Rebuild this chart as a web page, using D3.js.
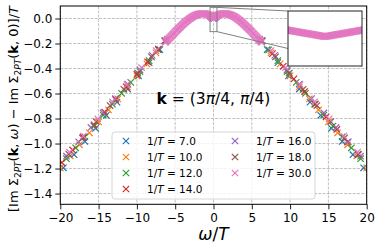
<!DOCTYPE html>
<html>
<head>
<meta charset="utf-8">
<script src="https://cdn.jsdelivr.net/npm/d3@7"></script>
<style>
  body { margin: 0; background: #fff; }
  text { font-family: "DejaVu Sans", sans-serif; }
</style>
</head>
<body>
<script>
// tick labels
var xTicks = [-20, -15, -10, -5, 0, 5, 10, 15, 20];
var yTicks = [0, -0.2, -0.4, -0.6, -0.8, -1.0, -1.2, -1.4];

// legend labels (1/T) and colours
var invT = ["7.0", "10.0", "12.0", "14.0", "16.0", "18.0", "30.0"];
var colors = ["#1f77b4", "#ff7f0e", "#2ca02c", "#d62728", "#9467bd", "#8c564b", "#e377c2"];

// [omega/T, value]
var pts7 = [[-19.6,-1.194],[-18.2,-1.089],[-16.8,-0.983],[-15.4,-0.878],[-14.0,-0.774],[-12.6,-0.669],[-11.2,-0.564],[-9.8,-0.458],[-8.4,-0.353],[-7.0,-0.249],
  [7.0,-0.249],[8.4,-0.353],[9.8,-0.458],[11.2,-0.564],[12.6,-0.669],[14.0,-0.774],[15.4,-0.878],[16.8,-0.983],[18.2,-1.089],[19.6,-1.194]];
var pts10 = [[-20.0,-1.194],[-18.7,-1.098],[-17.5,-1.010],[-16.2,-0.914],[-15.0,-0.827],[-13.7,-0.731],[-12.5,-0.643],[-11.2,-0.547],[-10.0,-0.459],[-8.7,-0.363],[-7.5,-0.275],[-6.2,-0.179],
  [6.2,-0.179],[7.5,-0.275],[8.7,-0.363],[10.0,-0.459],[11.2,-0.547],[12.5,-0.643],[13.7,-0.731],[15.0,-0.827],[16.2,-0.914],[17.5,-1.010],[18.7,-1.098],[20.0,-1.194]];
var pts12 = [[-19.2,-1.121],[-18.0,-1.034],[-16.8,-0.947],[-15.6,-0.860],[-14.4,-0.772],[-13.2,-0.685],[-12.0,-0.598],[-10.8,-0.511],[-9.6,-0.424],[-8.4,-0.337],[-7.2,-0.250],[-6.0,-0.164],
  [6.0,-0.164],[7.2,-0.250],[8.4,-0.337],[9.6,-0.424],[10.8,-0.511],[12.0,-0.598],[13.2,-0.685],[14.4,-0.772],[15.6,-0.860],[16.8,-0.947],[18.0,-1.034],[19.2,-1.121]];
var pts14 = [[-19.8,-1.152],[-18.4,-1.051],[-17.0,-0.951],[-15.6,-0.850],[-14.2,-0.749],[-12.8,-0.648],[-11.4,-0.547],[-10.0,-0.447],[-8.6,-0.346],[-7.2,-0.245],
  [6.3,-0.180],[7.7,-0.281],[9.1,-0.382],[10.5,-0.483],[11.9,-0.584],[13.3,-0.685],[14.7,-0.786],[16.1,-0.887],[17.5,-0.988],[18.9,-1.089]];
var pts16 = [[-19.2,-1.101],[-17.6,-0.986],[-16.0,-0.871],[-14.4,-0.755],[-12.8,-0.640],[-11.2,-0.525],[-9.6,-0.410],[-8.0,-0.295],[-6.4,-0.179],
  [6.4,-0.179],[8.0,-0.295],[9.6,-0.410],[11.2,-0.525],[12.8,-0.640],[14.4,-0.755],[16.0,-0.871],[17.6,-0.986],[19.2,-1.101]];
var pts18 = [[-18.9,-1.084],[-17.1,-0.955],[-15.3,-0.825],[-13.5,-0.696],[-11.7,-0.566],[-9.9,-0.436],[-8.1,-0.307],[-6.3,-0.177],
  [6.3,-0.177],[8.1,-0.307],[9.9,-0.436],[11.7,-0.566],[13.5,-0.696],[15.3,-0.825],[17.1,-0.955],[18.9,-1.084]];
// 1/T = 30: sparse tail points plus the dense central band
var pts30 = [[-18.8,-1.069],[-17.0,-0.940],[-15.1,-0.803],[-13.2,-0.666],[-11.3,-0.529],[-9.4,-0.392],[-7.5,-0.256],
  [7.5,-0.256],[9.4,-0.392],[11.3,-0.529],[13.2,-0.666],[15.1,-0.803],[17.0,-0.940],[18.8,-1.069]];
var pts30band = [
  [-6.3,-0.191],[-6.2,-0.185],[-6.1,-0.179],[-6.0,-0.172],[-5.9,-0.166],[-5.8,-0.159],[-5.7,-0.153],[-5.6,-0.146],[-5.5,-0.140],[-5.4,-0.133],
  [-5.3,-0.127],[-5.2,-0.120],[-5.1,-0.114],[-5.0,-0.107],[-4.9,-0.101],[-4.8,-0.094],[-4.7,-0.088],[-4.6,-0.082],[-4.5,-0.076],[-4.4,-0.070],
  [-4.3,-0.064],[-4.2,-0.058],[-4.1,-0.052],[-4.0,-0.046],[-3.9,-0.041],[-3.8,-0.035],[-3.7,-0.030],[-3.6,-0.024],[-3.5,-0.019],[-3.4,-0.014],
  [-3.3,-0.010],[-3.2,-0.005],[-3.1,-0.001],[-3.0,0.004],[-2.9,0.008],[-2.8,0.012],[-2.7,0.016],[-2.6,0.019],[-2.5,0.022],[-2.4,0.025],
  [-2.3,0.028],[-2.2,0.030],[-2.1,0.032],[-2.0,0.034],[-1.9,0.036],[-1.8,0.037],[-1.7,0.038],[-1.6,0.039],[-1.5,0.040],[-1.4,0.040],
  [-1.3,0.040],[-1.2,0.039],[-1.1,0.038],[-1.0,0.037],[-0.9,0.035],[-0.8,0.033],[-0.7,0.031],[-0.6,0.028],[-0.5,0.026],
  [-0.475,0.0249],[-0.4625,0.0243],[-0.45,0.0236],[-0.4375,0.0230],[-0.425,0.0223],[-0.4125,0.0217],[-0.4,0.0210],[-0.3875,0.0203],
  [-0.375,0.0197],[-0.3625,0.0190],[-0.35,0.0184],[-0.3375,0.0177],[-0.325,0.0171],[-0.3125,0.0164],[-0.3,0.0158],[-0.2875,0.0151],
  [-0.275,0.0144],[-0.2625,0.0138],[-0.25,0.0131],[-0.2375,0.0125],[-0.225,0.0118],[-0.2125,0.0112],[-0.2,0.0105],[-0.1875,0.0098],
  [-0.175,0.0092],[-0.1625,0.0085],[-0.15,0.0079],[-0.1375,0.0072],[-0.125,0.0066],[-0.1125,0.0059],[-0.1,0.0053],[-0.0875,0.0046],
  [-0.075,0.0039],[-0.0625,0.0033],[-0.05,0.0026],[-0.0375,0.0020],[-0.025,0.0013],[-0.0125,0.0007],[0,0],
  [0.0125,0.0007],[0.025,0.0013],[0.0375,0.0020],[0.05,0.0026],[0.0625,0.0033],[0.075,0.0039],[0.0875,0.0046],[0.1,0.0053],
  [0.1125,0.0059],[0.125,0.0066],[0.1375,0.0072],[0.15,0.0079],[0.1625,0.0085],[0.175,0.0092],[0.1875,0.0098],[0.2,0.0105],
  [0.2125,0.0112],[0.225,0.0118],[0.2375,0.0125],[0.25,0.0131],[0.2625,0.0138],[0.275,0.0144],[0.2875,0.0151],[0.3,0.0158],
  [0.3125,0.0164],[0.325,0.0171],[0.3375,0.0177],[0.35,0.0184],[0.3625,0.0190],[0.375,0.0197],[0.3875,0.0203],[0.4,0.0210],
  [0.4125,0.0217],[0.425,0.0223],[0.4375,0.0230],[0.45,0.0236],[0.4625,0.0243],[0.475,0.0249],
  [0.5,0.026],[0.6,0.028],[0.7,0.031],[0.8,0.033],[0.9,0.035],[1.0,0.037],[1.1,0.038],[1.2,0.039],[1.3,0.040],[1.4,0.040],
  [1.5,0.040],[1.6,0.039],[1.7,0.038],[1.8,0.037],[1.9,0.036],[2.0,0.034],[2.1,0.032],[2.2,0.030],[2.3,0.028],[2.4,0.025],
  [2.5,0.022],[2.6,0.019],[2.7,0.016],[2.8,0.012],[2.9,0.008],[3.0,0.004],[3.1,-0.001],[3.2,-0.005],[3.3,-0.010],[3.4,-0.014],
  [3.5,-0.019],[3.6,-0.024],[3.7,-0.030],[3.8,-0.035],[3.9,-0.041],[4.0,-0.046],[4.1,-0.052],[4.2,-0.058],[4.3,-0.064],[4.4,-0.070],
  [4.5,-0.076],[4.6,-0.082],[4.7,-0.088],[4.8,-0.094],[4.9,-0.101],[5.0,-0.107],[5.1,-0.114],[5.2,-0.120],[5.3,-0.127],[5.4,-0.133],
  [5.5,-0.140],[5.6,-0.146],[5.7,-0.153],[5.8,-0.159],[5.9,-0.166],[6.0,-0.172],[6.1,-0.179],[6.2,-0.185],[6.3,-0.191]];

var allSeries = [pts7, pts10, pts12, pts14, pts16, pts18, pts30.concat(pts30band)];

// inset window
var insetX = [-0.45, 0.45];
var insetY = [-0.105, 0.092];

var width = 381, height = 250;
var svg = d3.select("body").append("svg")
  .attr("width", width)
  .attr("height", height);

var x = d3.scaleLinear().domain([-20, 20]).range([60.3, 366.7]);
var y = d3.scaleLinear().domain([-1.486, 0.1]).range([204.3, 6]);

// clip for the main axes
svg.append("clipPath").attr("id", "mainclip")
  .append("rect")
  .attr("x", x.range()[0]).attr("y", y.range()[1])
  .attr("width", x.range()[1] - x.range()[0])
  .attr("height", y.range()[0] - y.range()[1]);

// grid
var grid = svg.append("g").attr("stroke", "#b0b0b0").attr("stroke-width", 0.8)
  .attr("stroke-dasharray", "3,1.3");
grid.selectAll(".gx").data(xTicks).enter().append("line")
  .attr("x1", d => x(d)).attr("x2", d => x(d))
  .attr("y1", y.range()[1]).attr("y2", y.range()[0]);
grid.selectAll(".gy").data(yTicks).enter().append("line")
  .attr("x1", x.range()[0]).attr("x2", x.range()[1])
  .attr("y1", d => y(d)).attr("y2", d => y(d));

function cross(s) {
  return "M" + (-s) + "," + (-s) + "L" + s + "," + s + "M" + (-s) + "," + s + "L" + s + "," + (-s);
}

// data markers
var plot = svg.append("g").attr("clip-path", "url(#mainclip)");
allSeries.forEach(function (pts, i) {
  plot.append("g").selectAll("path")
    .data(pts)
    .enter()
    .append("path")
    .attr("d", cross(3.2))
    .attr("transform", d => `translate(${x(d[0])},${y(d[1])})`)
    .attr("fill", "none")
    .attr("stroke", colors[i])
    .attr("stroke-width", 1.2);
});

// axes
var xAxis = svg.append("g")
  .attr("transform", `translate(0,${y.range()[0]})`)
  .call(d3.axisBottom(x).tickValues(xTicks).tickSize(5).tickPadding(4).tickSizeOuter(0));
var yAxis = svg.append("g")
  .attr("transform", `translate(${x.range()[0]},0)`)
  .call(d3.axisLeft(y).tickValues(yTicks).tickFormat(d3.format(".1f")).tickSize(5).tickPadding(3).tickSizeOuter(0));
[xAxis, yAxis].forEach(function (a) {
  a.select(".domain").remove();
  a.selectAll("text").attr("font-size", 12).attr("font-family", "DejaVu Sans").attr("fill", "#000");
  a.selectAll("line").attr("stroke", "#000").attr("stroke-width", 0.9);
});

// frame
svg.append("rect")
  .attr("x", x.range()[0]).attr("y", y.range()[1])
  .attr("width", x.range()[1] - x.range()[0])
  .attr("height", y.range()[0] - y.range()[1])
  .attr("fill", "none").attr("stroke", "#000").attr("stroke-width", 1);

// annotation
var ann = svg.append("text")
  .attr("x", 213.5).attr("y", 104)
  .attr("text-anchor", "middle")
  .attr("font-size", 15.5);
ann.append("tspan").attr("font-weight", "bold").text("k");
ann.append("tspan").text(" = (3");
ann.append("tspan").attr("font-style", "italic").text("π");
ann.append("tspan").text("/4, ");
ann.append("tspan").attr("font-style", "italic").text("π");
ann.append("tspan").text("/4)");

// legend
var legend = svg.append("g");
legend.append("rect")
  .attr("x", 112).attr("y", 132).attr("width", 203).attr("height", 67)
  .attr("rx", 3)
  .attr("fill", "#fff").attr("fill-opacity", 0.8)
  .attr("stroke", "#cccccc").attr("stroke-width", 0.8);
invT.forEach(function (lab, i) {
  var col = i < 4 ? 0 : 1;
  var row = i < 4 ? i : i - 4;
  var mx = col === 0 ? 126 : 235;
  var cy = 141 + row * 16;
  legend.append("path")
    .attr("d", cross(3.2))
    .attr("transform", `translate(${mx},${cy})`)
    .attr("fill", "none").attr("stroke", colors[i]).attr("stroke-width", 1.2);
  var t = legend.append("text")
    .attr("x", mx + 21).attr("y", cy + 4)
    .attr("font-size", 10.5);
  t.append("tspan").text("1/");
  t.append("tspan").attr("font-style", "italic").text("T");
  t.append("tspan").text(" = " + lab);
});

// x label
var xl = svg.append("text")
  .attr("x", 213.5).attr("y", 240)
  .attr("text-anchor", "middle")
  .attr("font-size", 17);
xl.append("tspan").attr("font-style", "italic").text("ω");
xl.append("tspan").text("/");
xl.append("tspan").attr("font-style", "italic").text("T");

// y label
var yl = svg.append("text")
  .attr("transform", "translate(18,109) rotate(-90)")
  .attr("text-anchor", "middle")
  .attr("font-size", 13);
function sigma(txt) {
  yl.append("tspan").text(txt + "Σ");
  yl.append("tspan").attr("font-size", 9).attr("dy", 3).text("2");
  yl.append("tspan").attr("font-size", 9).attr("font-style", "italic").text("PT");
  yl.append("tspan").attr("dy", -3).text("(");
  yl.append("tspan").attr("font-weight", "bold").text("k");
  yl.append("tspan").text(", ");
}
sigma("[Im ");
yl.append("tspan").attr("font-style", "italic").text("ω");
yl.append("tspan").text(") − ");
sigma("Im ");
yl.append("tspan").text("0)]/");
yl.append("tspan").attr("font-style", "italic").text("T");

// inset
var ix = d3.scaleLinear().domain(insetX).range([288, 362]);
var iy = d3.scaleLinear().domain(insetY).range([66, 11]);

// zoom rectangle and connectors
svg.append("rect")
  .attr("x", x(insetX[0])).attr("y", y(insetY[1]))
  .attr("width", x(insetX[1]) - x(insetX[0]))
  .attr("height", y(insetY[0]) - y(insetY[1]))
  .attr("fill", "none").attr("stroke", "#808080").attr("stroke-width", 1);
svg.append("line")
  .attr("x1", x(insetX[0])).attr("y1", y(insetY[1]))
  .attr("x2", ix.range()[0]).attr("y2", iy.range()[1])
  .attr("stroke", "#808080").attr("stroke-width", 1);
svg.append("line")
  .attr("x1", x(insetX[1])).attr("y1", y(insetY[0]))
  .attr("x2", ix.range()[1]).attr("y2", iy.range()[0])
  .attr("stroke", "#808080").attr("stroke-width", 1);

svg.append("clipPath").attr("id", "insetclip")
  .append("rect")
  .attr("x", 288).attr("y", 11).attr("width", 74).attr("height", 55);
svg.append("rect")
  .attr("x", 288).attr("y", 11).attr("width", 74).attr("height", 55)
  .attr("fill", "#fff");
var inset = svg.append("g").attr("clip-path", "url(#insetclip)");
allSeries.forEach(function (pts, i) {
  inset.append("g").selectAll("path")
    .data(pts.filter(d => d[0] > insetX[0] - 0.2 && d[0] < insetX[1] + 0.2))
    .enter()
    .append("path")
    .attr("d", cross(3.2))
    .attr("transform", d => `translate(${ix(d[0])},${iy(d[1])})`)
    .attr("fill", "none")
    .attr("stroke", colors[i])
    .attr("stroke-width", 1.2);
});
svg.append("rect")
  .attr("x", 288).attr("y", 11).attr("width", 74).attr("height", 55)
  .attr("fill", "none").attr("stroke", "#222").attr("stroke-width", 1);
</script>
</body>
</html>
